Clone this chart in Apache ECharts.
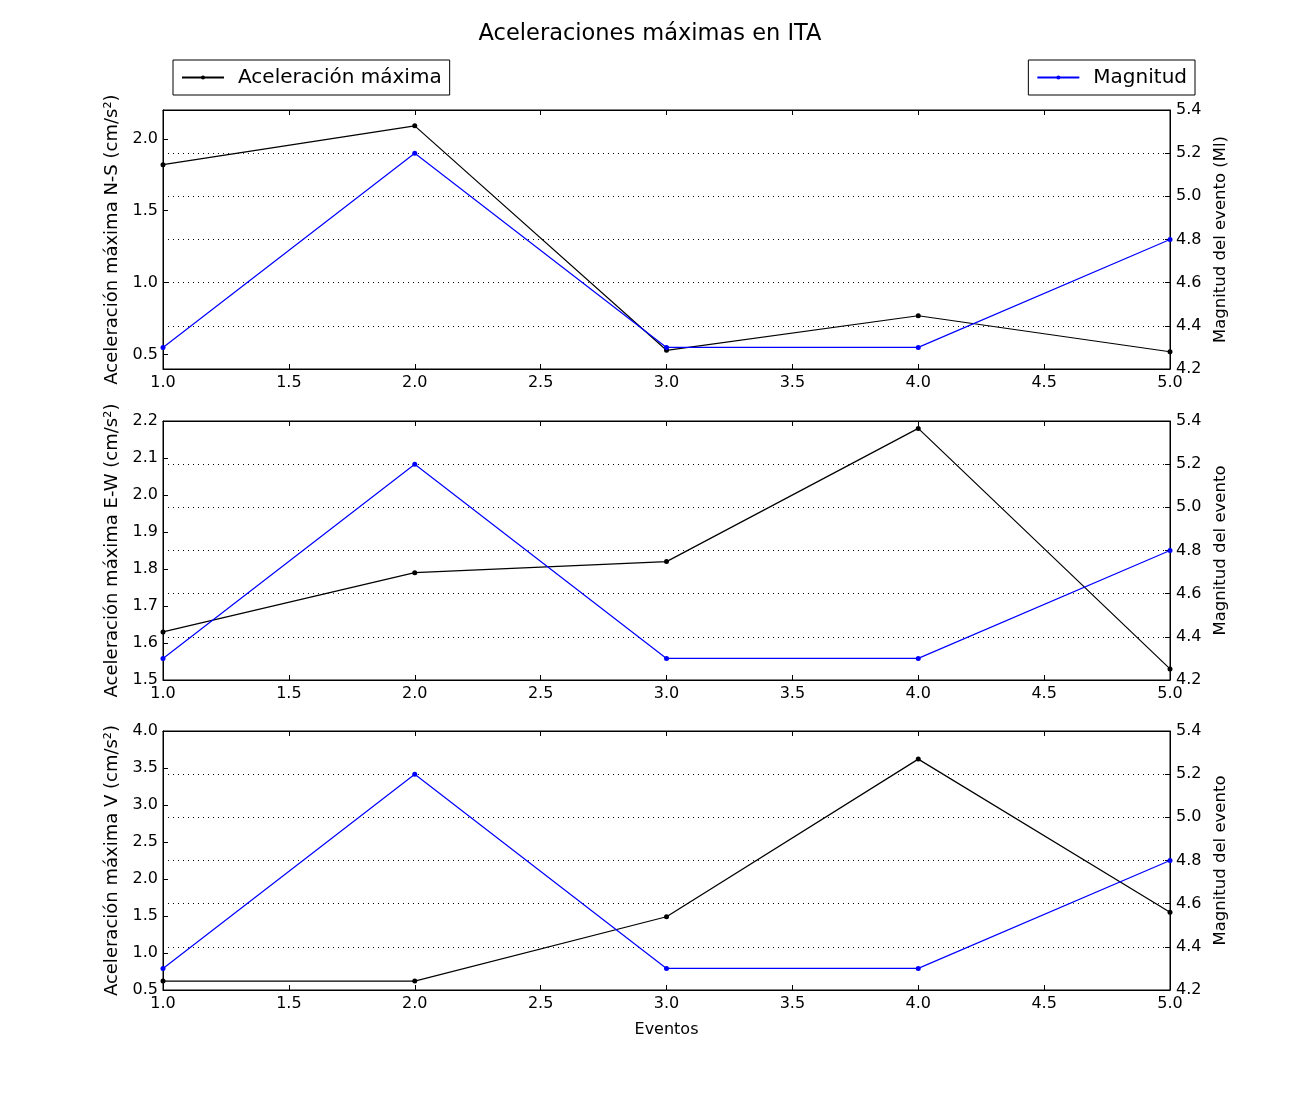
<!DOCTYPE html>
<html>
<head>
<meta charset="utf-8">
<script src="https://cdn.jsdelivr.net/npm/echarts@6/dist/echarts.min.js"></script>
<style>html,body{margin:0;padding:0;background:#fff}#c{width:1300px;height:1100px}</style>
</head>
<body>
<div id="c"></div>
<script>
const eventos = [1, 2, 3, 4, 5];
const accNS = [1.82, 2.09, 0.53, 0.77, 0.52];
const accEW = [1.63, 1.79, 1.82, 2.18, 1.53];
const accV = [0.62, 0.62, 1.49, 3.62, 1.55];
const magnitud = [4.3, 5.2, 4.3, 4.3, 4.8];
const xTicks = [1.0, 1.5, 2.0, 2.5, 3.0, 3.5, 4.0, 4.5, 5.0];
const ticksNS = [0.5, 1.0, 1.5, 2.0];
const ticksEW = [1.5, 1.6, 1.7, 1.8, 1.9, 2.0, 2.1, 2.2];
const ticksV = [0.5, 1.0, 1.5, 2.0, 2.5, 3.0, 3.5, 4.0];
const ticksMag = [4.2, 4.4, 4.6, 4.8, 5.0, 5.2, 5.4];
const leftNames = ['Aceleración máxima N-S (cm/s²)', 'Aceleración máxima E-W (cm/s²)', 'Aceleración máxima V (cm/s²)'];
const rightNames = ['Magnitud del evento (Ml)', 'Magnitud del evento', 'Magnitud del evento'];
const accSeries = [accNS, accEW, accV];
const leftRanges = [[0.4, 2.2, ticksNS], [1.5, 2.2, ticksEW], [0.5, 4.0, ticksV]];

const FONT = 'DejaVu Sans';
const tops = [110, 421, 731];
const grids = tops.map(t => ({left: 163, right: 130, top: t, height: 259, show: true, borderColor: '#000', borderWidth: 1, backgroundColor: 'transparent'}));

const xAxes = [], yAxes = [], series = [];
tops.forEach((t, i) => {
  xAxes.push({
    type: 'value', gridIndex: i, min: 1, max: 5, interval: 0.5, position: 'bottom',
    name: i === 2 ? 'Eventos' : '', nameLocation: 'middle', nameGap: 32,
    nameTextStyle: {fontFamily: FONT, fontSize: 16, color: '#000'},
    axisLine: {show: true, lineStyle: {color: '#000'}},
    axisTick: {show: true, inside: true, length: 5, lineStyle: {color: '#000'}, customValues: xTicks},
    axisLabel: {fontFamily: FONT, fontSize: 16, color: '#000', margin: 6, customValues: xTicks, formatter: v => v.toFixed(1)},
    splitLine: {show: false}
  });
  xAxes.push({
    type: 'value', gridIndex: i, min: 1, max: 5, interval: 0.5, position: 'top',
    axisLine: {show: true, lineStyle: {color: '#000'}},
    axisTick: {show: true, inside: true, length: 5, lineStyle: {color: '#000'}, customValues: xTicks},
    axisLabel: {show: false}, splitLine: {show: false}
  });
  const [mn, mx, tk] = leftRanges[i];
  yAxes.push({
    type: 'value', gridIndex: i, min: mn, max: mx, position: 'left',
    name: leftNames[i], nameLocation: 'middle', nameGap: 41, nameRotate: 90,
    nameTextStyle: {fontFamily: FONT, fontSize: 18, color: '#000'},
    axisLine: {show: true, lineStyle: {color: '#000'}},
    axisTick: {show: true, inside: true, length: 5, lineStyle: {color: '#000'}, customValues: tk},
    axisLabel: {fontFamily: FONT, fontSize: 16, color: '#000', margin: 5, customValues: tk, formatter: v => v.toFixed(1)},
    splitLine: {show: false}
  });
  yAxes.push({
    type: 'value', gridIndex: i, min: 4.2, max: 5.4, interval: 0.2, position: 'right',
    name: rightNames[i], nameLocation: 'middle', nameGap: 37, nameRotate: 90,
    nameTextStyle: {fontFamily: FONT, fontSize: 16.5, color: '#000'},
    axisLine: {show: true, lineStyle: {color: '#000'}},
    axisTick: {show: true, inside: true, length: 5, lineStyle: {color: '#000'}, customValues: ticksMag},
    axisLabel: {fontFamily: FONT, fontSize: 16, color: '#000', margin: 6, customValues: ticksMag, formatter: v => v.toFixed(1)},
    splitLine: {show: true, lineStyle: {color: '#000', type: [1, 4], width: 1}}
  });
  series.push({
    name: 'Aceleración máxima', type: 'line', xAxisIndex: 2 * i, yAxisIndex: 2 * i,
    data: eventos.map((e, k) => [e, accSeries[i][k]]),
    symbol: 'circle', symbolSize: 5, showSymbol: true,
    itemStyle: {color: '#000'}, lineStyle: {color: '#000', width: 1.2}, z: 3, animation: false
  });
  series.push({
    name: 'Magnitud', type: 'line', xAxisIndex: 2 * i, yAxisIndex: 2 * i + 1,
    data: eventos.map((e, k) => [e, magnitud[k]]),
    symbol: 'circle', symbolSize: 5, showSymbol: true,
    itemStyle: {color: '#0000ff'}, lineStyle: {color: '#0000ff', width: 1.2}, z: 4, animation: false
  });
});

const legendCommon = {
  orient: 'horizontal', top: 60, borderColor: '#000', borderWidth: 1, borderRadius: 0,
  padding: [7, 8, 7, 8], itemWidth: 42, itemHeight: 5, itemGap: 10,
  textStyle: {fontFamily: FONT, fontSize: 20, lineHeight: 21, color: '#000', padding: [0, 0, 0, 9]},
  selectedMode: false
};

const chart = echarts.init(document.getElementById('c'), null, {renderer: 'canvas'});
chart.setOption({
  animation: false,
  backgroundColor: '#fff',
  title: {text: 'Aceleraciones máximas en ITA', left: 'center', top: 18, textStyle: {fontFamily: FONT, fontSize: 22.5, fontWeight: 'normal', color: '#000'}},
  legend: [
    Object.assign({}, legendCommon, {left: 173, data: ['Aceleración máxima']}),
    Object.assign({}, legendCommon, {right: 105, data: ['Magnitud']})
  ],
  grid: grids,
  xAxis: xAxes,
  yAxis: yAxes,
  series: series
});
</script>
</body>
</html>
